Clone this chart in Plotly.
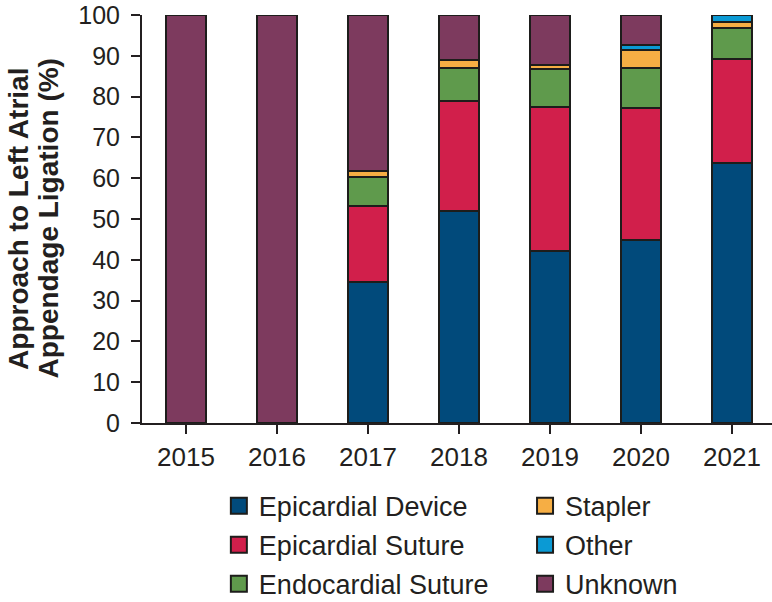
import plotly.graph_objects as go

years = ["2015", "2016", "2017", "2018", "2019", "2020", "2021"]
epicardial_device = [None, None, 34.5, 52.0, 42.2, 44.9, 63.7]
epicardial_suture = [None, None, 18.6, 26.9, 35.3, 32.4, 25.5]
endocardial_suture = [None, None, 7.2, 8.2, 9.3, 9.6, 7.6]
stapler = [None, None, 1.5, 1.9, 1.0, 4.5, 1.6]
other = [None, None, None, None, None, 1.2, 1.6]
unknown = [100, 100, 38.2, 11.0, 12.2, 7.4, None]
y_title_lines = ["Approach to Left Atrial", "Appendage Ligation (%)"]

series = [
    ("Epicardial Device", epicardial_device, "#014a7b", "legend"),
    ("Epicardial Suture", epicardial_suture, "#d11f4b", "legend"),
    ("Endocardial Suture", endocardial_suture, "#5f9a4c", "legend"),
    ("Stapler", stapler, "#f6ae44", "legend2"),
    ("Other", other, "#0b9ad4", "legend2"),
    ("Unknown", unknown, "#7d3a5e", "legend2"),
]

OUTLINE = "#1d1d1b"
TXT = "#231f20"
FONT = "Liberation Sans, Arial, Helvetica, sans-serif"

fig = go.Figure()
for name, vals, col, lg in series:
    fig.add_trace(go.Bar(
        x=years, y=vals, name=name, width=0.44,
        marker=dict(color=col, line=dict(color=OUTLINE, width=2)),
        showlegend=False,
    ))
# legend entries (square swatches)
for name, vals, col, lg in series:
    fig.add_trace(go.Scatter(
        x=[years[0]], y=[None], mode="markers", name=name,
        marker=dict(symbol="square", size=16, color=col,
                    line=dict(color=OUTLINE, width=2)),
        legend=lg, legendgroup=name, showlegend=True, hoverinfo="skip",
    ))

fig.update_layout(
    width=772, height=602,
    barmode="stack",
    plot_bgcolor="white", paper_bgcolor="white",
    margin=dict(l=142, r=0, t=15, b=179),
    font=dict(family=FONT, size=25, color=TXT),
    legend=dict(x=0.122, xref="paper", y=0.2, yref="container",
                xanchor="left", yanchor="top", tracegroupgap=1,
                font=dict(size=27, color=TXT), bgcolor="rgba(0,0,0,0)"),
    legend2=dict(x=0.608, xref="paper", y=0.2, yref="container",
                 xanchor="left", yanchor="top", tracegroupgap=1,
                 font=dict(size=27, color=TXT), bgcolor="rgba(0,0,0,0)"),
)

for line, xc in zip(y_title_lines, [-0.197, -0.150]):
    fig.add_annotation(
        text=line, textangle=-90, showarrow=False,
        xref="paper", yref="paper", x=xc, y=0.5,
        xanchor="center", yanchor="middle",
        font=dict(size=28, color=TXT, family=FONT, weight=700),
    )

fig.update_xaxes(
    type="category", range=[-0.484, 6.44],
    showline=True, linewidth=2, linecolor=TXT,
    ticks="outside", ticklen=9, tickwidth=2, tickcolor=TXT,
    showgrid=False, zeroline=False,
    tickfont=dict(size=26, color=TXT, family=FONT),
    ticklabelstandoff=1,
)
fig.update_yaxes(
    range=[0, 100], dtick=10,
    showline=True, linewidth=2, linecolor=TXT,
    ticks="outside", ticklen=9, tickwidth=2, tickcolor=TXT,
    showgrid=False, zeroline=False,
    tickfont=dict(size=25, color=TXT, family=FONT),
    ticklabelstandoff=6,
)

fig.write_html("out.html")
